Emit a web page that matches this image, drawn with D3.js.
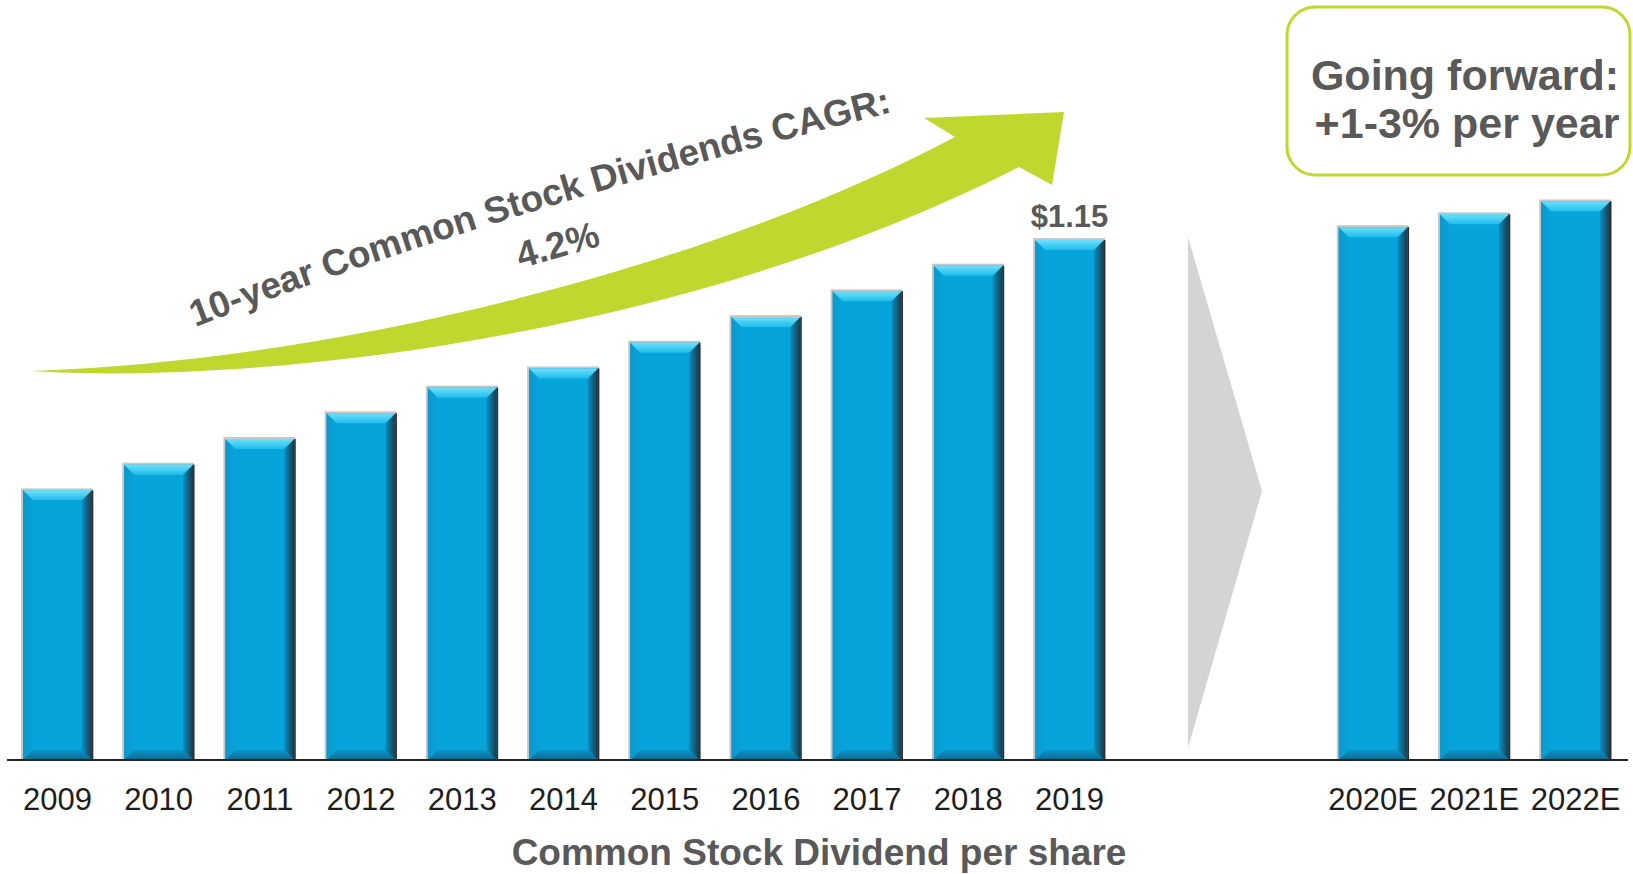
<!DOCTYPE html>
<html>
	<head>
		<meta charset = "utf-8">
		<script src = "https://cdn.jsdelivr.net/npm/d3@7"></script>
		<style>
			body { margin: 0; background: #fff; }
			text { font-family: "Liberation Sans", Arial, sans-serif; }
		</style>
	</head>
	<body>
		<script>
			// values
			var years = ["2009", "2010", "2011", "2012", "2013", "2014", "2015", "2016", "2017", "2018", "2019"];
			var dividends = [0.76, 0.80, 0.84, 0.88, 0.92, 0.95, 0.99, 1.03, 1.07, 1.11, 1.15];
			var forecastYears = ["2020E", "2021E", "2022E"];
			var forecastDividends = [1.17, 1.19, 1.21];
			var gapSlots = ["gap1", "gap2"];

			var width = 1633, height = 874;
			var baseY = 760;

			var data = years.map(function(y, i){ return {year: y, value: dividends[i]}; })
						.concat(forecastYears.map(function(y, i){ return {year: y, value: forecastDividends[i]}; }));

			var x = d3.scaleBand()
						.domain(years.concat(gapSlots, forecastYears))
						.range([23, 1610])
						.paddingInner(0.32)
						.paddingOuter(0);

			var y = d3.scaleLinear()
						.domain([0.34, 1.15])
						.range([baseY, 240]);

			var svg = d3.select("body")
						.append("svg")
						.attr("width", width)
						.attr("height", height);

			var defs = svg.append("defs");
			function grad(id, x2, y2, stops){
				var g = defs.append("linearGradient").attr("id", id)
							.attr("x1", 0).attr("y1", 0).attr("x2", x2).attr("y2", y2);
				stops.forEach(function(s){
					g.append("stop").attr("offset", s[0]).attr("stop-color", s[1]);
				});
			}
			grad("topG", 0, 1, [[0, "#6ee0fb"], [1, "#1fbcec"]]);
			grad("rightG", 1, 0, [[0, "#0890c2"], [1, "#1c3846"]]);
			grad("bottomG", 0, 1, [[0, "#0995c9"], [1, "#0a6a93"]]);
			grad("leftG", 1, 0, [[0, "#0b98cc"], [1, "#07a3db"]]);

			// green CAGR arrow
			svg.append("path")
				.attr("d", "M32,371 C350,360 720,262 955,137 L924,118 L1064,112 L1052,185 L1019,167 C680,340 250,385 32,371 Z")
				.attr("fill", "#c0d72f");

			defs.append("path").attr("id", "arcText")
				.attr("d", "M195,327 Q500,210 893,112");

			svg.append("text")
				.attr("font-size", 37)
				.attr("font-weight", "bold")
				.attr("fill", "#595959")
				.append("textPath")
				.attr("href", "#arcText")
				.attr("startOffset", "50%")
				.attr("text-anchor", "middle")
				.text("10-year Common Stock Dividends CAGR:");

			svg.append("text")
				.attr("transform", "translate(561,257) rotate(-16)")
				.attr("text-anchor", "middle")
				.attr("font-size", 37)
				.attr("font-weight", "bold")
				.attr("fill", "#595959")
				.text("4.2%");

			// grey chevron between actuals and estimates
			svg.append("path")
				.attr("d", "M1188,237 L1262,491 L1188,748 Z")
				.attr("fill", "#d4d4d4");

			// outlook box
			svg.append("rect")
				.attr("x", 1287).attr("y", 7)
				.attr("width", 343).attr("height", 168)
				.attr("rx", 28)
				.attr("fill", "#fff")
				.attr("stroke", "#c0d72f")
				.attr("stroke-width", 3);

			svg.append("text")
				.attr("x", 1465).attr("y", 90)
				.attr("text-anchor", "middle")
				.attr("font-size", 43)
				.attr("font-weight", "bold")
				.attr("fill", "#595959")
				.text("Going forward:");

			svg.append("text")
				.attr("x", 1467).attr("y", 138)
				.attr("text-anchor", "middle")
				.attr("font-size", 43)
				.attr("font-weight", "bold")
				.attr("fill", "#595959")
				.text("+1-3% per year");

			// bevelled bars
			var bw = x.bandwidth(), b = 10;
			var block = svg.selectAll("g.bar").data(data).enter().append("g")
							.attr("class", "bar")
							.attr("transform", function(d){ return "translate(" + x(d.year) + "," + y(d.value) + ")"; });

			block.append("rect")
				.attr("x", -2).attr("y", -2)
				.attr("width", bw + 3)
				.attr("height", function(d){ return baseY - y(d.value) + 2; })
				.attr("fill", "#c8c8c8");

			block.append("rect")
				.attr("x", bw - 1).attr("y", 0)
				.attr("width", 2.5)
				.attr("height", function(d){ return baseY - y(d.value); })
				.attr("fill", "#2e2e2e");

			block.append("rect")
				.attr("width", bw)
				.attr("height", function(d){ return baseY - y(d.value); })
				.attr("fill", "#07a3db");

			block.append("path")
				.attr("fill", "url(#leftG)")
				.attr("d", function(d){ var h = baseY - y(d.value);
					return "M0,0 L" + b + "," + b + " L" + b + "," + (h - b) + " L0," + h + "Z"; });

			block.append("path")
				.attr("fill", "url(#rightG)")
				.attr("d", function(d){ var h = baseY - y(d.value);
					return "M" + bw + ",0 L" + (bw - b) + "," + b + " L" + (bw - b) + "," + (h - b) + " L" + bw + "," + h + "Z"; });

			block.append("path")
				.attr("fill", "url(#bottomG)")
				.attr("d", function(d){ var h = baseY - y(d.value);
					return "M0," + h + " L" + b + "," + (h - b) + " L" + (bw - b) + "," + (h - b) + " L" + bw + "," + h + "Z"; });

			block.append("path")
				.attr("fill", "url(#topG)")
				.attr("d", "M0,0 L" + bw + ",0 L" + (bw - b) + "," + b + " L" + b + "," + b + "Z");

			// value label on the last actual bar
			svg.append("text")
				.datum(data[years.length - 1])
				.attr("x", function(d){ return x(d.year) + bw / 2; })
				.attr("y", function(d){ return y(d.value) - 13; })
				.attr("text-anchor", "middle")
				.attr("font-size", 31)
				.attr("font-weight", "bold")
				.attr("fill", "#595959")
				.text(function(d){ return d3.format("$.2f")(d.value); });

			// baseline and year labels
			svg.append("line")
				.attr("x1", 7).attr("x2", 1628)
				.attr("y1", baseY).attr("y2", baseY)
				.attr("stroke", "#222")
				.attr("stroke-width", 2);

			var axis = svg.append("g")
						.attr("transform", "translate(0," + baseY + ")")
						.call(d3.axisBottom(x).tickValues(years.concat(forecastYears)).tickSize(0).tickPadding(28));
			axis.select(".domain").remove();
			axis.selectAll("text")
				.attr("font-size", 31)
				.attr("font-family", "'Liberation Sans', Arial, sans-serif")
				.attr("fill", "#1e1e1e");

			svg.append("text")
				.attr("x", 819).attr("y", 865)
				.attr("text-anchor", "middle")
				.attr("font-size", 37)
				.attr("font-weight", "bold")
				.attr("fill", "#595959")
				.text("Common Stock Dividend per share");
		</script>
	</body>
</html>
